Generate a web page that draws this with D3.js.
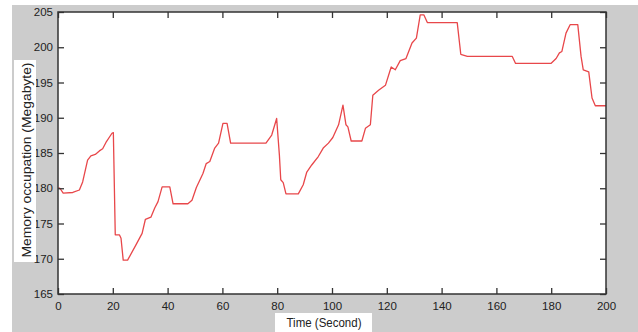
<!DOCTYPE html>
<meta charset="utf-8">
<style>
  body { margin: 0; background: #fff; }
  text { font-family: "Liberation Sans", Arial, sans-serif; fill: #222; }
</style>
<body>
<script src="https://cdn.jsdelivr.net/npm/d3@7"></script>
<script>

    // memory trace (time in s, memory in MB)
    var timeSec = [0, 0.7, 1.9, 5.4, 7.8, 9.0, 10.8, 12.0, 13.6, 15.1, 16.3, 17.5, 19.7, 20.2,
        20.9, 22.4, 23.0, 23.8, 25.4, 28.5, 30.7, 31.9, 33.9, 35.3, 36.5, 38.0, 40.8, 42.0,
        47.4, 48.9, 50.5, 52.9, 54.1, 55.4, 57.2, 58.6, 60.2, 61.7, 63.0, 75.9, 78.0, 79.8,
        80.8, 81.3, 82.2, 83.2, 87.7, 89.5, 90.8, 92.6, 95.0, 96.8, 98.7, 100.3, 102.4, 104.0,
        105.1, 105.8, 107.0, 110.9, 112.2, 114.0, 114.9, 117.0, 119.5, 121.6, 123.1, 124.9,
        127.0, 129.2, 130.8, 132.2, 133.5, 134.8, 145.7, 147.0, 149.4, 165.8, 167.0, 179.9,
        181.8, 183.0, 183.9, 185.4, 186.9, 189.7, 190.9, 191.7, 193.7, 194.9, 196.1, 200];
    var memMB = [180.0, 180.0, 179.3, 179.4, 179.75, 180.9, 184.0, 184.6, 184.8, 185.3, 185.6,
        186.5, 187.8, 187.9, 173.4, 173.4, 172.9, 169.8, 169.8, 172.0, 173.6, 175.6, 175.9,
        177.2, 178.1, 180.2, 180.2, 177.8, 177.8, 178.3, 180.1, 182.1, 183.5, 183.8, 185.7,
        186.4, 189.2, 189.2, 186.4, 186.4, 187.55, 189.9, 184.7, 181.2, 180.8, 179.2, 179.2,
        180.5, 182.3, 183.3, 184.5, 185.7, 186.4, 187.2, 189.0, 191.8, 189.0, 188.7, 186.7,
        186.7, 188.5, 189.0, 193.2, 193.9, 194.6, 197.2, 196.8, 198.1, 198.4, 200.6, 201.3,
        204.6, 204.6, 203.5, 203.5, 199.0, 198.7, 198.7, 197.7, 197.7, 198.4, 199.2, 199.4,
        202.0, 203.2, 203.2, 198.7, 196.8, 196.5, 192.8, 191.7, 191.7];

    var xTicks = [0, 20, 40, 60, 80, 100, 120, 140, 160, 180, 200];
    var yTicks = [165, 170, 175, 180, 185, 190, 195, 200, 205];
    var xTitle = "Time (Second)";
    var yTitle = "Memory occupation (Megabyte)";

    var width = 638,
        height = 332;

    var plotLeft = 58, plotRight = 606, plotTop = 12, plotBottom = 294;

    var svg = d3.select("body").append("svg")
            .attr("width", width)
            .attr("height", height);

    // grey figure background
    svg.append("rect")
        .attr("x", 12).attr("y", 5)
        .attr("width", width - 12).attr("height", height - 5)
        .attr("fill", "#cccccc");

    svg.append("rect")
        .attr("x", plotLeft).attr("y", plotTop)
        .attr("width", plotRight - plotLeft).attr("height", plotBottom - plotTop)
        .attr("fill", "#fff");

    var x = d3.scaleLinear().domain([0, 200]).range([plotLeft, plotRight]);
    var y = d3.scaleLinear().domain([165, 205]).range([plotBottom, plotTop]);

    var line = d3.line()
            .x(function(d, i) { return x(timeSec[i]); })
            .y(function(d) { return y(d); });

    svg.append("path")
        .datum(memMB)
        .attr("d", line)
        .attr("fill", "none")
        .attr("stroke", "#e8474a")
        .attr("stroke-width", 1.3)
        .attr("stroke-linejoin", "round");

    function styleAxis(g) {
        g.select(".domain").remove();
        g.selectAll(".tick line").attr("stroke", "#333").attr("stroke-width", 1.3);
        g.selectAll("text").attr("font-size", 11.5).attr("fill", "#222")
            .attr("font-family", "'Liberation Sans', Arial, sans-serif");
    }

    svg.append("g")
        .attr("transform", "translate(0," + plotBottom + ")")
        .call(d3.axisBottom(x).tickValues(xTicks).tickSizeInner(-6).tickSizeOuter(0).tickPadding(8))
        .call(styleAxis);

    svg.append("g")
        .attr("transform", "translate(0," + plotTop + ")")
        .call(d3.axisTop(x).tickValues(xTicks).tickSizeInner(-6).tickSizeOuter(0).tickFormat(""))
        .call(styleAxis);

    svg.append("g")
        .attr("transform", "translate(" + plotLeft + ",0)")
        .call(d3.axisLeft(y).tickValues(yTicks).tickSizeInner(-6).tickSizeOuter(0).tickPadding(5))
        .call(styleAxis);

    svg.append("g")
        .attr("transform", "translate(" + plotRight + ",0)")
        .call(d3.axisRight(y).tickValues(yTicks).tickSizeInner(-6).tickSizeOuter(0).tickFormat(""))
        .call(styleAxis);

    // axes box
    svg.append("rect")
        .attr("x", plotLeft).attr("y", plotTop)
        .attr("width", plotRight - plotLeft).attr("height", plotBottom - plotTop)
        .attr("fill", "none")
        .attr("stroke", "#333")
        .attr("stroke-width", 1.5);

    // titles with white boxes
    svg.append("rect")
        .attr("x", 275).attr("y", 313).attr("width", 97).attr("height", 19)
        .attr("fill", "#fff");
    svg.append("text")
        .attr("x", 324).attr("y", 327)
        .attr("text-anchor", "middle")
        .attr("font-size", 12)
        .attr("textLength", 75)
        .attr("lengthAdjust", "spacingAndGlyphs")
        .text(xTitle);

    svg.append("rect")
        .attr("x", 14).attr("y", 60).attr("width", 22).attr("height", 202)
        .attr("fill", "#fff");
    svg.append("text")
        .attr("transform", "translate(31,160) rotate(-90)")
        .attr("text-anchor", "middle")
        .attr("font-size", 12)
        .attr("textLength", 195)
        .attr("lengthAdjust", "spacingAndGlyphs")
        .text(yTitle);

</script>
